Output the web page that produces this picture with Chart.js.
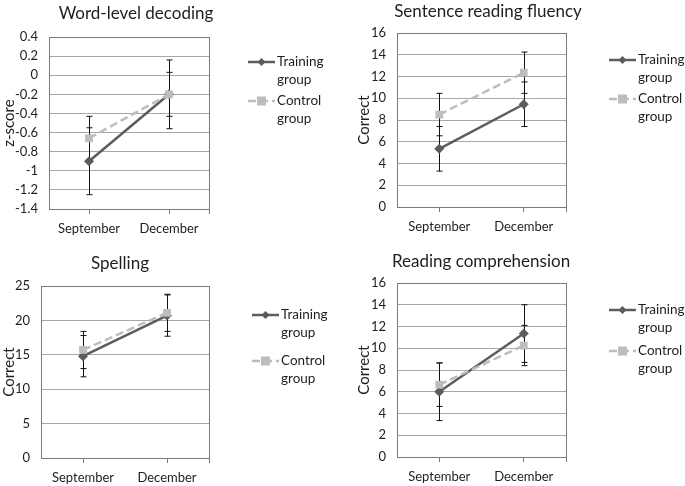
<!DOCTYPE html>
<html>
<head>
<meta charset="utf-8">
<script src="https://cdn.jsdelivr.net/npm/chart.js@4"></script>
<style>
    html, body { margin: 0; padding: 0; background: #fff; }
    #wrap { position: relative; width: 685px; height: 486px; }
    .panel { position: absolute; }
</style>
</head>
<body>
<div id="wrap">
    <div class="panel" style="left:0;top:0"><canvas id="decodingChart" width="340" height="245"></canvas></div>
    <div class="panel" style="left:340px;top:0"><canvas id="fluencyChart" width="345" height="245"></canvas></div>
    <div class="panel" style="left:0;top:245px"><canvas id="spellingChart" width="340" height="241"></canvas></div>
    <div class="panel" style="left:340px;top:245px"><canvas id="comprehensionChart" width="345" height="241"></canvas></div>
</div>
<script>
const categories = ['September', 'December'];
const trainingName = ['Training', 'group'];
const controlName = ['Control', 'group'];

// Word-level decoding (z-score)
const decodingTraining = [-0.9, -0.2];
const decodingTrainingErr = [0.35, 0.36];
const decodingControl = [-0.66, -0.2];
const decodingControlErr = [0.23, 0.23];
const decodingTicks = [0.4, 0.2, 0, -0.2, -0.4, -0.6, -0.8, -1, -1.2, -1.4];

// Sentence reading fluency
const fluencyTraining = [5.35, 9.45];
const fluencyTrainingErr = [2.05, 2.05];
const fluencyControl = [8.5, 12.35];
const fluencyControlErr = [1.95, 1.9];
const fluencyTicks = [0, 2, 4, 6, 8, 10, 12, 14, 16];

// Spelling
const spellingTraining = [14.8, 20.7];
const spellingTrainingErr = [3.0, 3.0];
const spellingControl = [15.7, 21.1];
const spellingControlErr = [2.7, 2.7];
const spellingTicks = [0, 5, 10, 15, 20, 25];

// Reading comprehension
const comprehensionTraining = [6.0, 11.35];
const comprehensionTrainingErr = [2.65, 2.65];
const comprehensionControl = [6.65, 10.25];
const comprehensionControlErr = [2.0, 1.85];
const comprehensionTicks = [0, 2, 4, 6, 8, 10, 12, 14, 16];

const FONT = 'Lato, "Open Sans", sans-serif';
const TEXT = '#1e1e1e';
const DARK = '#5c5c5c';
const LIGHT = '#bdbdbd';

function drawMarker(ctx, style, x, y, r, color) {
    ctx.save();
    ctx.fillStyle = color;
    ctx.beginPath();
    if (style === 'rectRot') {
        ctx.moveTo(x, y - r);
        ctx.lineTo(x + r, y);
        ctx.lineTo(x, y + r);
        ctx.lineTo(x - r, y);
    } else {
        ctx.rect(x - r, y - r, r * 2, r * 2);
    }
    ctx.closePath();
    ctx.fill();
    ctx.restore();
}

// error bars, plot frame, title and the two-line legend
const panelDecor = {
    id: 'panelDecor',
    beforeDatasetsDraw(chart) {
        const ctx = chart.ctx;
        const y = chart.scales.y;
        ctx.save();
        ctx.strokeStyle = '#111';
        ctx.lineWidth = 1;
        chart.data.datasets.forEach((ds, i) => {
            const meta = chart.getDatasetMeta(i);
            ds.data.forEach((v, j) => {
                const px = Math.round(meta.data[j].x) + 0.5;
                const top = y.getPixelForValue(v + ds.errors[j]);
                const bot = y.getPixelForValue(v - ds.errors[j]);
                ctx.beginPath();
                ctx.moveTo(px, top);
                ctx.lineTo(px, bot);
                ctx.moveTo(px - 3, top);
                ctx.lineTo(px + 3, top);
                ctx.moveTo(px - 3, bot);
                ctx.lineTo(px + 3, bot);
                ctx.stroke();
            });
        });
        ctx.restore();
    },
    afterDraw(chart, args, opts) {
        const ctx = chart.ctx;
        const a = chart.chartArea;
        ctx.save();
        ctx.strokeStyle = '#7a7a7a';
        ctx.lineWidth = 1;
        ctx.strokeRect(Math.round(a.left) + 0.5, Math.round(a.top) + 0.5, Math.round(a.right - a.left), Math.round(a.bottom - a.top));
        ctx.beginPath();
        ctx.moveTo(Math.round(a.right) + 0.5, a.bottom);
        ctx.lineTo(Math.round(a.right) + 0.5, a.bottom + 5);
        ctx.stroke();

        ctx.fillStyle = TEXT;
        ctx.font = '17px ' + FONT;
        ctx.textAlign = 'center';
        ctx.textBaseline = 'middle';
        ctx.fillText(opts.title, opts.titleX, opts.titleY);

        ctx.font = '13.5px ' + FONT;
        ctx.textAlign = 'left';
        const entries = [
            { name: trainingName, y: opts.legendY[0], color: DARK, dash: [], style: 'rectRot', r: 4 },
            { name: controlName, y: opts.legendY[1], color: LIGHT, dash: [8, 4], style: 'rect', r: 4.5 }
        ];
        entries.forEach(e => {
            ctx.strokeStyle = e.color;
            ctx.lineWidth = 2.5;
            ctx.setLineDash(e.dash);
            ctx.beginPath();
            ctx.moveTo(opts.legendX, e.y);
            ctx.lineTo(opts.legendX + 27, e.y);
            ctx.stroke();
            ctx.setLineDash([]);
            drawMarker(ctx, e.style, opts.legendX + 13.5, e.y, e.r, e.color);
            ctx.fillStyle = TEXT;
            ctx.fillText(e.name[0], opts.legendX + 29, e.y);
            ctx.fillText(e.name[1], opts.legendX + 29, e.y + 17.5);
        });
        ctx.restore();
    }
};

function renderPanel(elementId, cfg) {
    const ctx = document.getElementById(elementId).getContext('2d');
    new Chart(ctx, {
        type: 'line',
        data: {
            labels: categories,
            datasets: [{
                label: 'Training group',
                data: cfg.training,
                errors: cfg.trainingErr,
                order: 1,
                borderColor: DARK,
                backgroundColor: DARK,
                borderWidth: 2.5,
                pointStyle: 'rectRot',
                pointRadius: 5,
                pointHoverRadius: 5,
                pointBorderWidth: 0
            }, {
                label: 'Control group',
                data: cfg.control,
                errors: cfg.controlErr,
                order: 0,
                borderColor: LIGHT,
                backgroundColor: LIGHT,
                borderWidth: 2.5,
                borderDash: [8, 4],
                pointStyle: 'rect',
                pointRadius: 5.5,
                pointHoverRadius: 5.5,
                pointBorderWidth: 0
            }]
        },
        options: {
            responsive: false,
            animation: false,
            events: [],
            layout: { padding: { top: cfg.top, right: cfg.right, left: cfg.left, bottom: 0 } },
            scales: {
                x: {
                    offset: true,
                    grid: { offset: false, drawOnChartArea: false, tickLength: 5, color: '#7a7a7a' },
                    border: { color: '#7a7a7a' },
                    ticks: { padding: 7, color: TEXT, font: { family: FONT, size: 13 } },
                    afterFit: s => { s.height = cfg.xHeight; }
                },
                y: {
                    min: cfg.ticks[cfg.ticks.length - 1] < cfg.ticks[0] ? cfg.ticks[cfg.ticks.length - 1] : cfg.ticks[0],
                    max: cfg.ticks[cfg.ticks.length - 1] < cfg.ticks[0] ? cfg.ticks[0] : cfg.ticks[cfg.ticks.length - 1],
                    afterBuildTicks: s => { s.ticks = cfg.ticks.map(v => ({ value: v })); },
                    grid: { drawTicks: false, color: '#a8a8a8' },
                    border: { color: '#7a7a7a' },
                    ticks: {
                        padding: 11,
                        color: TEXT,
                        font: { family: FONT, size: 13 },
                        callback: v => String(Number(v.toFixed(1)))
                    },
                    title: { display: true, text: cfg.yTitle, padding: 0, color: TEXT, font: { family: FONT, size: 15 } },
                    afterFit: s => { s.width = cfg.yWidth; }
                }
            },
            plugins: {
                legend: { display: false },
                tooltip: { enabled: false },
                panelDecor: {
                    title: cfg.title,
                    titleX: cfg.titleX,
                    titleY: cfg.titleY,
                    legendX: cfg.legendX,
                    legendY: cfg.legendY
                }
            }
        },
        plugins: [panelDecor]
    });
}

renderPanel('decodingChart', {
    title: 'Word-level decoding', yTitle: 'z-score',
    training: decodingTraining, trainingErr: decodingTrainingErr,
    control: decodingControl, controlErr: decodingControlErr,
    ticks: decodingTicks,
    left: 0, yWidth: 49, top: 37, right: 131, xHeight: 36,
    titleX: 136, titleY: 14, legendX: 248, legendY: [62, 101]
});
renderPanel('fluencyChart', {
    title: 'Sentence reading fluency', yTitle: 'Correct',
    training: fluencyTraining, trainingErr: fluencyTrainingErr,
    control: fluencyControl, controlErr: fluencyControlErr,
    ticks: fluencyTicks,
    left: 15, yWidth: 42, top: 33, right: 119, xHeight: 38,
    titleX: 148, titleY: 12, legendX: 269, legendY: [60, 99]
});
renderPanel('spellingChart', {
    title: 'Spelling', yTitle: 'Correct',
    training: spellingTraining, trainingErr: spellingTrainingErr,
    control: spellingControl, controlErr: spellingControlErr,
    ticks: spellingTicks,
    left: 0, yWidth: 41, top: 41, right: 131, xHeight: 28,
    titleX: 120, titleY: 19, legendX: 252, legendY: [70, 116]
});
renderPanel('comprehensionChart', {
    title: 'Reading comprehension', yTitle: 'Correct',
    training: comprehensionTraining, trainingErr: comprehensionTrainingErr,
    control: comprehensionControl, controlErr: comprehensionControlErr,
    ticks: comprehensionTicks,
    left: 15, yWidth: 42, top: 38, right: 119, xHeight: 29,
    titleX: 141, titleY: 17, legendX: 269, legendY: [65, 106]
});
</script>
</body>
</html>
